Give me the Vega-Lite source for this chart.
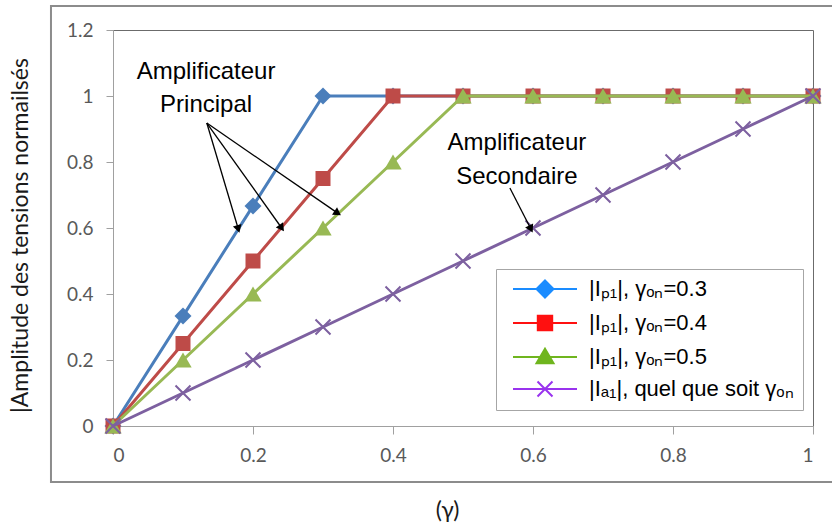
{
  "$schema": "https://vega.github.io/schema/vega-lite/v6.json",
  "width": 700,
  "height": 396,
  "autosize": {"type": "none"},
  "padding": {"left": 113, "top": 30, "right": 19, "bottom": 102},
  "config": {
    "view": {"stroke": "#6b6b6b", "strokeWidth": 1},
    "font": "Lato"
  },
  "datasets": {
    "curves": [
      {"gamma": 0, "value": 0, "series": "s03"},
      {"gamma": 0.1, "value": 0.333, "series": "s03"},
      {"gamma": 0.2, "value": 0.667, "series": "s03"},
      {"gamma": 0.3, "value": 1, "series": "s03"},
      {"gamma": 0.4, "value": 1, "series": "s03"},
      {"gamma": 0.5, "value": 1, "series": "s03"},
      {"gamma": 0.6, "value": 1, "series": "s03"},
      {"gamma": 0.7, "value": 1, "series": "s03"},
      {"gamma": 0.8, "value": 1, "series": "s03"},
      {"gamma": 0.9, "value": 1, "series": "s03"},
      {"gamma": 1, "value": 1, "series": "s03"},
      {"gamma": 0, "value": 0, "series": "s04"},
      {"gamma": 0.1, "value": 0.25, "series": "s04"},
      {"gamma": 0.2, "value": 0.5, "series": "s04"},
      {"gamma": 0.3, "value": 0.75, "series": "s04"},
      {"gamma": 0.4, "value": 1, "series": "s04"},
      {"gamma": 0.5, "value": 1, "series": "s04"},
      {"gamma": 0.6, "value": 1, "series": "s04"},
      {"gamma": 0.7, "value": 1, "series": "s04"},
      {"gamma": 0.8, "value": 1, "series": "s04"},
      {"gamma": 0.9, "value": 1, "series": "s04"},
      {"gamma": 1, "value": 1, "series": "s04"},
      {"gamma": 0, "value": 0, "series": "s05"},
      {"gamma": 0.1, "value": 0.2, "series": "s05"},
      {"gamma": 0.2, "value": 0.4, "series": "s05"},
      {"gamma": 0.3, "value": 0.6, "series": "s05"},
      {"gamma": 0.4, "value": 0.8, "series": "s05"},
      {"gamma": 0.5, "value": 1, "series": "s05"},
      {"gamma": 0.6, "value": 1, "series": "s05"},
      {"gamma": 0.7, "value": 1, "series": "s05"},
      {"gamma": 0.8, "value": 1, "series": "s05"},
      {"gamma": 0.9, "value": 1, "series": "s05"},
      {"gamma": 1, "value": 1, "series": "s05"},
      {"gamma": 0, "value": 0, "series": "a1"},
      {"gamma": 0.1, "value": 0.1, "series": "a1"},
      {"gamma": 0.2, "value": 0.2, "series": "a1"},
      {"gamma": 0.3, "value": 0.3, "series": "a1"},
      {"gamma": 0.4, "value": 0.4, "series": "a1"},
      {"gamma": 0.5, "value": 0.5, "series": "a1"},
      {"gamma": 0.6, "value": 0.6, "series": "a1"},
      {"gamma": 0.7, "value": 0.7, "series": "a1"},
      {"gamma": 0.8, "value": 0.8, "series": "a1"},
      {"gamma": 0.9, "value": 0.9, "series": "a1"},
      {"gamma": 1, "value": 1, "series": "a1"}
    ],
    "labels": [
      {"x": 0.133, "y": 1.073, "text": "Amplificateur"},
      {"x": 0.133, "y": 0.973, "text": "Principal"},
      {"x": 0.577, "y": 0.858, "text": "Amplificateur"},
      {"x": 0.577, "y": 0.755, "text": "Secondaire"}
    ],
    "arrows": [
      {"x": 0.134, "y": 0.918, "x2": 0.179, "y2": 0.597},
      {"x": 0.134, "y": 0.918, "x2": 0.241, "y2": 0.6},
      {"x": 0.134, "y": 0.918, "x2": 0.321, "y2": 0.645},
      {"x": 0.567, "y": 0.721, "x2": 0.597, "y2": 0.597}
    ]
  },
  "resolve": {"scale": {"color": "independent"}},
  "layer": [
    {
      "data": {"name": "curves"},
      "encoding": {
        "x": {
          "field": "gamma", "type": "quantitative",
          "scale": {"domain": [0, 1], "nice": false},
          "axis": {
            "values": [0, 0.2, 0.4, 0.6, 0.8, 1], "format": "~g", "grid": false,
            "domainColor": "#a0a0a0", "tickColor": "#a0a0a0", "tickSize": 8,
            "labelFont": "Lato", "labelFontSize": 19, "labelColor": "#595959", "labelPadding": 12,
            "title": "(γ)", "titleFont": "Lato", "titleFontSize": 23, "titleFontWeight": "normal",
            "titleColor": "#1a1a1a", "titleX": 334, "titleY": 84, "titleBaseline": "middle", "titleAlign": "center"
          }
        },
        "y": {
          "field": "value", "type": "quantitative",
          "scale": {"domain": [0, 1.2], "nice": false},
          "axis": {
            "values": [0, 0.2, 0.4, 0.6, 0.8, 1, 1.2], "format": "~g", "grid": false,
            "domainColor": "#a0a0a0", "tickColor": "#a0a0a0", "tickSize": 7,
            "labelFont": "Lato", "labelFontSize": 19, "labelColor": "#595959", "labelPadding": 13,
            "title": "|Amplitude des tensions normailsés", "titleFont": "Lato", "titleFontSize": 23,
            "titleFontWeight": "normal", "titleColor": "#1a1a1a", "titleX": -93, "titleY": 205,
            "titleBaseline": "middle", "titleAlign": "center", "titleAngle": -90
          }
        },
        "color": {
          "field": "series", "type": "nominal",
          "scale": {"domain": ["s03", "s04", "s05", "a1"], "range": ["#4a7ebb", "#be4b48", "#98b954", "#7d60a0"]},
          "legend": null
        }
      },
      "layer": [
        {"transform": [{"filter": "datum.series === 's03'"}], "mark": {"type": "line", "strokeWidth": 3}},
        {"transform": [{"filter": "datum.series === 's03'"}], "mark": {"type": "point", "shape": "diamond", "filled": true, "opacity": 1, "size": 289}},
        {"transform": [{"filter": "datum.series === 's04'"}], "mark": {"type": "line", "strokeWidth": 3}},
        {"transform": [{"filter": "datum.series === 's04'"}], "mark": {"type": "point", "shape": "square", "filled": true, "opacity": 1, "size": 225}},
        {"transform": [{"filter": "datum.series === 's05'"}], "mark": {"type": "line", "strokeWidth": 3}},
        {"transform": [{"filter": "datum.series === 's05'"}], "mark": {"type": "point", "shape": "triangle-up", "filled": true, "opacity": 1, "size": 300}},
        {"transform": [{"filter": "datum.series === 'a1'"}], "mark": {"type": "line", "strokeWidth": 3}},
        {"transform": [{"filter": "datum.series === 'a1'"}], "mark": {"type": "point", "shape": "M-1,-1L1,1M-1,1L1,-1", "filled": false, "strokeWidth": 2, "opacity": 1, "size": 225}}
      ]
    },
    {
      "data": {"name": "curves"},
      "transform": [{"filter": "false"}],
      "encoding": {
        "x": {"field": "gamma", "type": "quantitative"},
        "y": {"field": "value", "type": "quantitative"},
        "color": {
          "field": "series", "type": "nominal",
          "scale": {"domain": ["s03", "s04", "s05", "a1"], "range": ["#1a8cff", "#ff1010", "#6fb51e", "#9933ee"]},
          "legend": {
            "orient": "none", "legendX": 383, "legendY": 239, "title": null,
            "fillColor": "white", "strokeColor": "#a6a6a6", "padding": 9, "rowPadding": 9,
            "symbolSize": 400, "labelFont": "Liberation Sans", "labelFontSize": 22, "labelColor": "#000000",
            "labelOffset": 62, "labelLimit": 300,
            "labelExpr": "datum.value === 's03' ? '|Iₚ₁|, γₒₙ=0.3' : datum.value === 's04' ? '|Iₚ₁|, γₒₙ=0.4' : datum.value === 's05' ? '|Iₚ₁|, γₒₙ=0.5' : '|Iₐ₁|, quel que soit γₒₙ'",
            "encode": {
              "symbols": {
                "update": {
                  "shape": {"signal": "datum.value === 's03' ? 'M-3.2,0L3.2,0M0,-0.85L0.85,0L0,0.85L-0.85,0Z' : datum.value === 's04' ? 'M-3.2,0L3.2,0M-0.72,-0.72L0.72,-0.72L0.72,0.72L-0.72,0.72Z' : datum.value === 's05' ? 'M-3.2,0L3.2,0M0,-0.82L0.85,0.62L-0.85,0.62Z' : 'M-3.2,0L3.2,0M-0.75,-0.75L0.75,0.75M-0.75,0.75L0.75,-0.75'"},
                  "strokeWidth": {"value": 2},
                  "size": {"value": 400},
                  "x": {"value": 40},
                  "opacity": {"value": 1}
                }
              }
            }
          }
        }
      },
      "layer": [
        {"mark": {"type": "line", "strokeWidth": 2}},
        {"mark": {"type": "point", "filled": true, "opacity": 1}}
      ]
    },
    {
      "data": {"name": "arrows"},
      "mark": {"type": "rule", "color": "#000000", "strokeWidth": 1.3},
      "encoding": {
        "x": {"field": "x", "type": "quantitative"},
        "y": {"field": "y", "type": "quantitative"},
        "x2": {"field": "x2"},
        "y2": {"field": "y2"}
      }
    },
    {
      "data": {"name": "arrows"},
      "transform": [{"calculate": "atan2((datum.x2 - datum.x) * 700, (datum.y2 - datum.y) * 330) * 180 / PI", "as": "angle"}],
      "mark": {"type": "point", "shape": "triangle-up", "filled": true, "color": "#000000", "opacity": 1, "size": 80},
      "encoding": {
        "x": {"field": "x2", "type": "quantitative"},
        "y": {"field": "y2", "type": "quantitative"},
        "angle": {"field": "angle", "type": "quantitative", "scale": null}
      }
    },
    {
      "data": {"name": "labels"},
      "mark": {"type": "text", "font": "Liberation Sans", "fontSize": 24, "align": "center", "baseline": "middle", "color": "#000000"},
      "encoding": {
        "x": {"field": "x", "type": "quantitative"},
        "y": {"field": "y", "type": "quantitative"},
        "text": {"field": "text"}
      }
    },
    {
      "data": {"values": [{}]},
      "mark": {"type": "rect", "fill": null, "stroke": "#8c8c8c", "strokeWidth": 2},
      "encoding": {
        "x": {"datum": -0.0886, "type": "quantitative"},
        "x2": {"datum": 1.1},
        "y": {"datum": -0.17, "type": "quantitative"},
        "y2": {"datum": 1.2727}
      }
    }
  ]
}
